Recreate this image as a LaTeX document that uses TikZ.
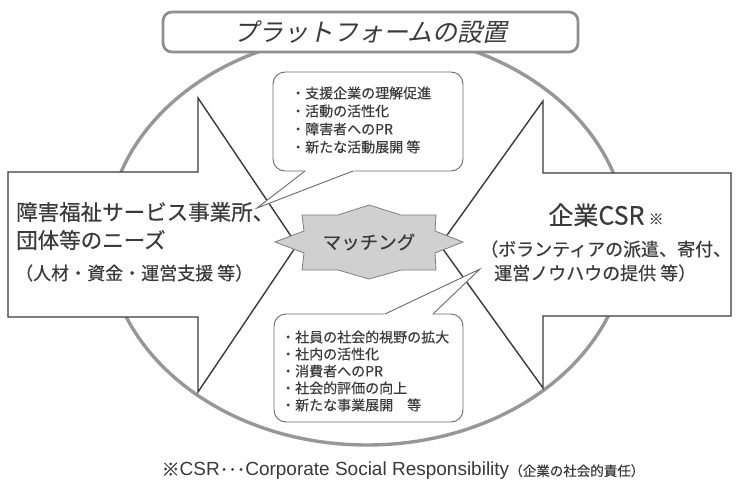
\documentclass[tikz,border=0pt]{standalone}
\usepackage{fontspec}
\newfontfamily\jp[FakeBold=0.35]{Noto Sans CJK JP}
\newfontfamily\jpslant[FakeSlant=0.22]{Noto Sans CJK JP}
\newfontfamily\lat{Liberation Sans}
\usetikzlibrary{calc}
\newcommand\pxsize[1]{\fontsize{#1}{#1}\selectfont}
\definecolor{RingGray}  {HTML}{979797}
\definecolor{FrameGray} {HTML}{8E8E8E}
\definecolor{InkGray}   {HTML}{3A3A3A}
\definecolor{BubbleGray}{HTML}{6A6A6A}
\definecolor{StarFill}  {HTML}{D0D0D0}
\definecolor{StarEdge}  {HTML}{7E7E7E}
\tikzset{
  ring/.style={draw=RingGray,line width=3.4pt},
  bigarrow/.style={draw=InkGray,fill=white,line width=1.4pt,line join=miter},
  titlebox/.style={rectangle,rounded corners=9pt,draw=FrameGray,fill=white,
                   line width=2.8pt,minimum width=415pt,minimum height=40pt,
                   text=InkGray,font=\jpslant\pxsize{25}},
  bubble/.style={rectangle,rounded corners=12pt,draw=BubbleGray,fill=white,
                 line width=0.9pt},
  ptr/.style={draw=BubbleGray,line width=0.9pt},
  matchstar/.style={draw=StarEdge,fill=StarFill,line width=0.8pt},
  txt/.style={inner sep=0pt,text=InkGray},
  list/.style={txt,align=left,anchor=west},
}

\begin{document}
\begin{tikzpicture}[x=1pt,y=-1pt]

  \fill[white] (0,0) rectangle (740,485);
  \useasboundingbox (0,0) rectangle (740,485);

  \draw[ring] (367,239) ellipse [x radius=260pt,y radius=206pt];

  \draw[bigarrow] (8,172) -- (198,172) -- (198,98) -- (297,245)
    -- (198,392) -- (198,317) -- (8,317) -- cycle;
  \draw[bigarrow] (731,173) -- (543,173) -- (543,101) -- (440,245)
    -- (543,388) -- (543,316) -- (731,316) -- cycle;

  \node[titlebox] (title) at (370.5,32) {プラットフォームの設置};

  \node[bubble,minimum width=190pt,minimum height=99pt] (topbub) at (368,121.5) {};
  \coordinate (topbase1) at (305,171);
  \coordinate (topbase2) at (353,171);
  \coordinate (toptip)   at (257,208);
  \fill[white] (toptip) -- ($(toptip)!1.1!(topbase1)$) -- ($(toptip)!1.1!(topbase2)$) -- cycle;
  \draw[ptr] (topbase1) -- (toptip) -- (topbase2);

  \node[bubble,minimum width=189pt,minimum height=108pt] (botbub) at (368.5,368) {};
  \coordinate (botbase1) at (385,314);
  \coordinate (botbase2) at (433,314);
  \coordinate (bottip)   at (480,269);
  \fill[white] (bottip) -- ($(bottip)!1.1!(botbase1)$) -- ($(bottip)!1.1!(botbase2)$) -- cycle;
  \draw[ptr] (botbase1) -- (bottip) -- (botbase2);

  \draw[matchstar] (275,242) -- (304,231) -- (302,215) -- (338,215) -- (369,205)
    -- (401,215) -- (436,215) -- (435,231) -- (463,242) -- (435,253) -- (436,270)
    -- (401,270) -- (369,279) -- (338,270) -- (302,270) -- (304,253) -- cycle;
  \node[txt,font=\jp\pxsize{18.5}] (match) at (369,242) {マッチング};

  \node[list,font=\jp\fontsize{14}{18}\selectfont] (toplist) at (291,120)
    {・支援企業の理解促進\\・活動の活性化\\・障害者へのPR\\・新たな活動展開 等};
  \node[list,font=\jp\fontsize{14}{17}\selectfont] (botlist) at (281,371)
    {・社員の社会的視野の拡大\\・社内の活性化\\・消費者へのPR\\・社会的評価の向上\\・新たな事業展開　等};

  \node[txt,anchor=west,font=\jp\pxsize{21.5}] (need1) at (16,212) {障害福祉サービス事業所、};
  \node[txt,anchor=west,font=\jp\pxsize{21.5}] (need2) at (16,240) {団体等のニーズ};
  \node[txt,anchor=west,font=\jp\pxsize{18}]   (need3) at (15,273) {（人材・資金・運営支援 等）};

  \node[txt,font=\jp\pxsize{25}] (csr1) at (606,215) {企業CSR\,{\pxsize{15}※}};
  \node[txt,anchor=west,font=\jp\pxsize{18}] (csr2) at (480,249) {（ボランティアの派遣、寄付、};
  \node[txt,anchor=west,font=\jp\pxsize{18}] (csr3) at (494,273) {運営ノウハウの提供 等）};

  \node[txt] (note) at (403,471)
    {{\jp\pxsize{18}※}{\lat\pxsize{19}CSR}{\jp\pxsize{17}･･･}%
     {\lat\pxsize{19}Corporate Social Responsibility}{\jp\pxsize{13.5}（企業の社会的責任）}};

\end{tikzpicture}
\end{document}
